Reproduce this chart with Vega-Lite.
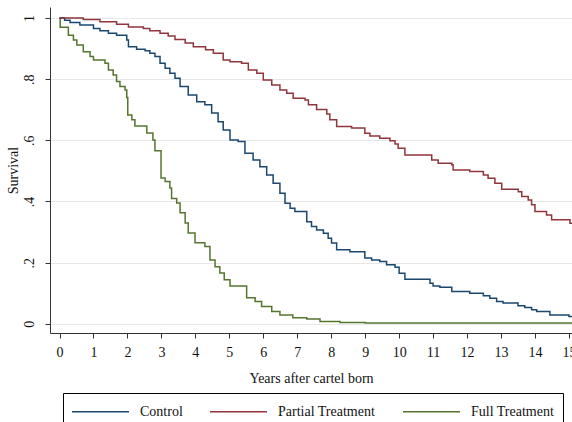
{
  "$schema": "https://vega.github.io/schema/vega-lite/v6.json",
  "width": 522,
  "height": 326,
  "autosize": {"type": "none"},
  "padding": {"left": 50, "top": 7, "right": 0, "bottom": 89},
  "background": "white",
  "config": {
    "view": {"stroke": null},
    "font": "Liberation Serif",
    "axis": {"domainColor": "#333333", "tickColor": "#333333", "labelColor": "#111111", "titleColor": "#111111", "labelFont": "Liberation Serif", "titleFont": "Liberation Serif", "titleFontWeight": "normal"}
  },
  "datasets": {
    "km": [
      {"group": "Full Treatment", "t": 0, "s": 1.0},
      {"group": "Full Treatment", "t": 0.02, "s": 0.97},
      {"group": "Full Treatment", "t": 0.26, "s": 0.944},
      {"group": "Full Treatment", "t": 0.41, "s": 0.928},
      {"group": "Full Treatment", "t": 0.51, "s": 0.912},
      {"group": "Full Treatment", "t": 0.7, "s": 0.89},
      {"group": "Full Treatment", "t": 0.9, "s": 0.874},
      {"group": "Full Treatment", "t": 1.0, "s": 0.863},
      {"group": "Full Treatment", "t": 1.34, "s": 0.852},
      {"group": "Full Treatment", "t": 1.44, "s": 0.83},
      {"group": "Full Treatment", "t": 1.58, "s": 0.814},
      {"group": "Full Treatment", "t": 1.68, "s": 0.792},
      {"group": "Full Treatment", "t": 1.78, "s": 0.776},
      {"group": "Full Treatment", "t": 1.93, "s": 0.765},
      {"group": "Full Treatment", "t": 1.98, "s": 0.74},
      {"group": "Full Treatment", "t": 2.01, "s": 0.683},
      {"group": "Full Treatment", "t": 2.13, "s": 0.667},
      {"group": "Full Treatment", "t": 2.22, "s": 0.647},
      {"group": "Full Treatment", "t": 2.57, "s": 0.624},
      {"group": "Full Treatment", "t": 2.75, "s": 0.601},
      {"group": "Full Treatment", "t": 2.81, "s": 0.566},
      {"group": "Full Treatment", "t": 2.99, "s": 0.477},
      {"group": "Full Treatment", "t": 3.11, "s": 0.465},
      {"group": "Full Treatment", "t": 3.25, "s": 0.444},
      {"group": "Full Treatment", "t": 3.3, "s": 0.41},
      {"group": "Full Treatment", "t": 3.45, "s": 0.395},
      {"group": "Full Treatment", "t": 3.55, "s": 0.363},
      {"group": "Full Treatment", "t": 3.7, "s": 0.33},
      {"group": "Full Treatment", "t": 3.79, "s": 0.297},
      {"group": "Full Treatment", "t": 3.99, "s": 0.265},
      {"group": "Full Treatment", "t": 4.28, "s": 0.253},
      {"group": "Full Treatment", "t": 4.43, "s": 0.209},
      {"group": "Full Treatment", "t": 4.58, "s": 0.187},
      {"group": "Full Treatment", "t": 4.72, "s": 0.166},
      {"group": "Full Treatment", "t": 4.85, "s": 0.144},
      {"group": "Full Treatment", "t": 5.02, "s": 0.124},
      {"group": "Full Treatment", "t": 5.51, "s": 0.085},
      {"group": "Full Treatment", "t": 5.76, "s": 0.073},
      {"group": "Full Treatment", "t": 5.95, "s": 0.057},
      {"group": "Full Treatment", "t": 6.25, "s": 0.04},
      {"group": "Full Treatment", "t": 6.49, "s": 0.029},
      {"group": "Full Treatment", "t": 6.87, "s": 0.02},
      {"group": "Full Treatment", "t": 7.28, "s": 0.016},
      {"group": "Full Treatment", "t": 7.67, "s": 0.008},
      {"group": "Full Treatment", "t": 8.26, "s": 0.004},
      {"group": "Full Treatment", "t": 9.0, "s": 0.003},
      {"group": "Full Treatment", "t": 15.09, "s": 0.003},

      {"group": "Control", "t": 0, "s": 1.0},
      {"group": "Control", "t": 0.15, "s": 0.993},
      {"group": "Control", "t": 0.31, "s": 0.985},
      {"group": "Control", "t": 0.6, "s": 0.977},
      {"group": "Control", "t": 1.0, "s": 0.966},
      {"group": "Control", "t": 1.19, "s": 0.958},
      {"group": "Control", "t": 1.44, "s": 0.95},
      {"group": "Control", "t": 1.68, "s": 0.944},
      {"group": "Control", "t": 1.98, "s": 0.928},
      {"group": "Control", "t": 2.03, "s": 0.906},
      {"group": "Control", "t": 2.27, "s": 0.898},
      {"group": "Control", "t": 2.52, "s": 0.893},
      {"group": "Control", "t": 2.66, "s": 0.885},
      {"group": "Control", "t": 2.81, "s": 0.874},
      {"group": "Control", "t": 2.96, "s": 0.852},
      {"group": "Control", "t": 3.11, "s": 0.836},
      {"group": "Control", "t": 3.25, "s": 0.819},
      {"group": "Control", "t": 3.4, "s": 0.803},
      {"group": "Control", "t": 3.55, "s": 0.776},
      {"group": "Control", "t": 3.79, "s": 0.748},
      {"group": "Control", "t": 4.04, "s": 0.726},
      {"group": "Control", "t": 4.28, "s": 0.716},
      {"group": "Control", "t": 4.48, "s": 0.689},
      {"group": "Control", "t": 4.67, "s": 0.661},
      {"group": "Control", "t": 4.82, "s": 0.634},
      {"group": "Control", "t": 5.02, "s": 0.601},
      {"group": "Control", "t": 5.26, "s": 0.596},
      {"group": "Control", "t": 5.46, "s": 0.558},
      {"group": "Control", "t": 5.7, "s": 0.536},
      {"group": "Control", "t": 5.9, "s": 0.514},
      {"group": "Control", "t": 6.1, "s": 0.487},
      {"group": "Control", "t": 6.29, "s": 0.46},
      {"group": "Control", "t": 6.49, "s": 0.427},
      {"group": "Control", "t": 6.64, "s": 0.394},
      {"group": "Control", "t": 6.79, "s": 0.378},
      {"group": "Control", "t": 6.93, "s": 0.367},
      {"group": "Control", "t": 7.28, "s": 0.334},
      {"group": "Control", "t": 7.42, "s": 0.318},
      {"group": "Control", "t": 7.57, "s": 0.307},
      {"group": "Control", "t": 7.77, "s": 0.296},
      {"group": "Control", "t": 7.91, "s": 0.28},
      {"group": "Control", "t": 8.01, "s": 0.264},
      {"group": "Control", "t": 8.16, "s": 0.242},
      {"group": "Control", "t": 8.55, "s": 0.236},
      {"group": "Control", "t": 8.99, "s": 0.215},
      {"group": "Control", "t": 9.19, "s": 0.209},
      {"group": "Control", "t": 9.43, "s": 0.204},
      {"group": "Control", "t": 9.63, "s": 0.193},
      {"group": "Control", "t": 9.88, "s": 0.185},
      {"group": "Control", "t": 10.0, "s": 0.165},
      {"group": "Control", "t": 10.17, "s": 0.146},
      {"group": "Control", "t": 10.91, "s": 0.133},
      {"group": "Control", "t": 11.0, "s": 0.124},
      {"group": "Control", "t": 11.2, "s": 0.12},
      {"group": "Control", "t": 11.55, "s": 0.106},
      {"group": "Control", "t": 12.08, "s": 0.1},
      {"group": "Control", "t": 12.48, "s": 0.092},
      {"group": "Control", "t": 12.67, "s": 0.084},
      {"group": "Control", "t": 12.87, "s": 0.073},
      {"group": "Control", "t": 13.06, "s": 0.068},
      {"group": "Control", "t": 13.5, "s": 0.059},
      {"group": "Control", "t": 13.7, "s": 0.053},
      {"group": "Control", "t": 13.9, "s": 0.046},
      {"group": "Control", "t": 14.05, "s": 0.04},
      {"group": "Control", "t": 14.44, "s": 0.029},
      {"group": "Control", "t": 15.0, "s": 0.024},
      {"group": "Control", "t": 15.09, "s": 0.024},

      {"group": "Partial Treatment", "t": 0, "s": 1.0},
      {"group": "Partial Treatment", "t": 0.7, "s": 0.995},
      {"group": "Partial Treatment", "t": 1.19, "s": 0.988},
      {"group": "Partial Treatment", "t": 1.68, "s": 0.98},
      {"group": "Partial Treatment", "t": 2.03, "s": 0.971},
      {"group": "Partial Treatment", "t": 2.47, "s": 0.966},
      {"group": "Partial Treatment", "t": 2.66, "s": 0.958},
      {"group": "Partial Treatment", "t": 2.96, "s": 0.95},
      {"group": "Partial Treatment", "t": 3.2, "s": 0.941},
      {"group": "Partial Treatment", "t": 3.4, "s": 0.93},
      {"group": "Partial Treatment", "t": 3.7, "s": 0.918},
      {"group": "Partial Treatment", "t": 3.94, "s": 0.906},
      {"group": "Partial Treatment", "t": 4.3, "s": 0.896},
      {"group": "Partial Treatment", "t": 4.53, "s": 0.885},
      {"group": "Partial Treatment", "t": 4.82, "s": 0.863},
      {"group": "Partial Treatment", "t": 5.02, "s": 0.857},
      {"group": "Partial Treatment", "t": 5.36, "s": 0.852},
      {"group": "Partial Treatment", "t": 5.56, "s": 0.83},
      {"group": "Partial Treatment", "t": 5.81, "s": 0.819},
      {"group": "Partial Treatment", "t": 6.0, "s": 0.797},
      {"group": "Partial Treatment", "t": 6.25, "s": 0.781},
      {"group": "Partial Treatment", "t": 6.49, "s": 0.765},
      {"group": "Partial Treatment", "t": 6.69, "s": 0.754},
      {"group": "Partial Treatment", "t": 6.88, "s": 0.738},
      {"group": "Partial Treatment", "t": 7.23, "s": 0.732},
      {"group": "Partial Treatment", "t": 7.33, "s": 0.716},
      {"group": "Partial Treatment", "t": 7.57, "s": 0.701},
      {"group": "Partial Treatment", "t": 7.87, "s": 0.686},
      {"group": "Partial Treatment", "t": 7.96, "s": 0.667},
      {"group": "Partial Treatment", "t": 8.16, "s": 0.645},
      {"group": "Partial Treatment", "t": 8.6, "s": 0.64},
      {"group": "Partial Treatment", "t": 8.99, "s": 0.623},
      {"group": "Partial Treatment", "t": 9.14, "s": 0.614},
      {"group": "Partial Treatment", "t": 9.43, "s": 0.607},
      {"group": "Partial Treatment", "t": 9.73, "s": 0.599},
      {"group": "Partial Treatment", "t": 9.88, "s": 0.588},
      {"group": "Partial Treatment", "t": 9.97, "s": 0.574},
      {"group": "Partial Treatment", "t": 10.17, "s": 0.552},
      {"group": "Partial Treatment", "t": 10.96, "s": 0.536},
      {"group": "Partial Treatment", "t": 11.15, "s": 0.525},
      {"group": "Partial Treatment", "t": 11.55, "s": 0.52},
      {"group": "Partial Treatment", "t": 11.59, "s": 0.503},
      {"group": "Partial Treatment", "t": 12.08, "s": 0.498},
      {"group": "Partial Treatment", "t": 12.48, "s": 0.487},
      {"group": "Partial Treatment", "t": 12.62, "s": 0.476},
      {"group": "Partial Treatment", "t": 12.82, "s": 0.46},
      {"group": "Partial Treatment", "t": 13.02, "s": 0.44},
      {"group": "Partial Treatment", "t": 13.51, "s": 0.432},
      {"group": "Partial Treatment", "t": 13.61, "s": 0.416},
      {"group": "Partial Treatment", "t": 13.8, "s": 0.405},
      {"group": "Partial Treatment", "t": 13.9, "s": 0.389},
      {"group": "Partial Treatment", "t": 14.0, "s": 0.367},
      {"group": "Partial Treatment", "t": 14.34, "s": 0.356},
      {"group": "Partial Treatment", "t": 14.49, "s": 0.34},
      {"group": "Partial Treatment", "t": 15.03, "s": 0.329},
      {"group": "Partial Treatment", "t": 15.09, "s": 0.329}
    ]
  },
  "data": {"name": "km"},
  "mark": {"type": "line", "interpolate": "step-after", "strokeWidth": 1.5},
  "encoding": {
    "x": {
      "field": "t", "type": "quantitative",
      "scale": {"domain": [-0.28, 15.09], "nice": false, "zero": false},
      "axis": {"title": "Years after cartel born", "values": [0,1,2,3,4,5,6,7,8,9,10,11,12,13,14,15], "grid": false, "tickSize": 5, "labelPadding": 7, "labelFontSize": 14, "titleFontSize": 14, "titlePadding": 12, "labelFlush": false}
    },
    "y": {
      "field": "s", "type": "quantitative",
      "scale": {"domain": [-0.03, 1.036], "nice": false, "zero": false},
      "axis": {"title": "Survival", "values": [0, 0.2, 0.4, 0.6, 0.8, 1], "labelExpr": "datum.value == 0 ? '0' : datum.value == 1 ? '1' : '.' + round(datum.value * 10)", "grid": true, "gridColor": "#e8e8e8", "gridWidth": 1, "tickSize": 5, "labelAngle": -90, "labelAlign": "center", "labelBaseline": "bottom", "labelPadding": 9, "labelFontSize": 14, "titleFontSize": 14, "titlePadding": 2}
    },
    "color": {
      "field": "group", "type": "nominal",
      "scale": {"domain": ["Control", "Partial Treatment", "Full Treatment"], "range": ["#1a476f", "#90353b", "#55752f"]},
      "legend": {"orient": "none", "legendX": 13, "legendY": 386, "direction": "horizontal", "title": null, "strokeColor": "#000000", "padding": 8, "symbolType": "M-1,0H5", "symbolSize": 361, "symbolStrokeWidth": 1.5, "labelFontSize": 14, "labelFont": "Liberation Serif", "labelColor": "#111111", "labelOffset": 48, "columnPadding": 24}
    }
  }
}
